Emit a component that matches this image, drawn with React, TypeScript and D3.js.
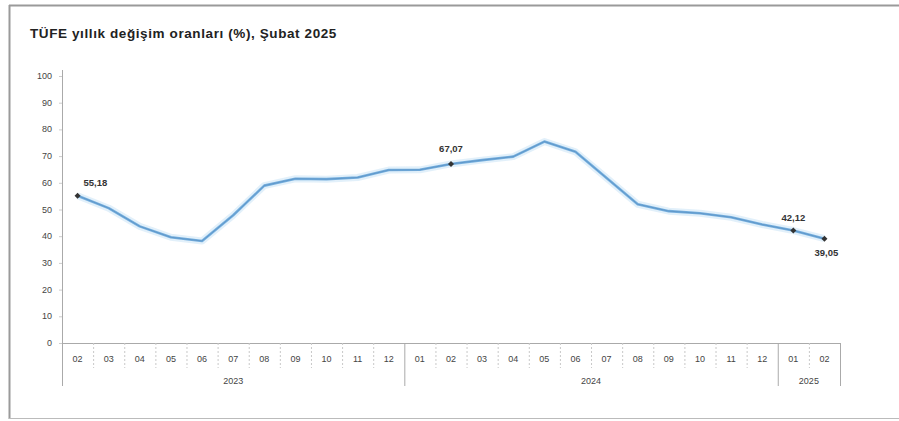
import React from "react";
import * as d3 from "d3";

const months = ["02","03","04","05","06","07","08","09","10","11","12","01","02","03","04","05","06","07","08","09","10","11","12","01","02"];
const years = [
  { label: "2023", start: 0, end: 11 },
  { label: "2024", start: 11, end: 23 },
  { label: "2025", start: 23, end: 25 },
];
const values = [55.18,50.51,43.68,39.59,38.21,47.83,58.94,61.53,61.36,61.98,64.77,64.86,67.07,68.5,69.8,75.45,71.6,61.78,51.97,49.38,48.58,47.09,44.38,42.12,39.05];
const yTicks = [0,10,20,30,40,50,60,70,80,90,100];
const labeled = [
  { i: 0, text: "55,18", dx: 6, dy: -10, anchor: "start" },
  { i: 12, text: "67,07", dx: 0, dy: -12, anchor: "middle" },
  { i: 23, text: "42,12", dx: 0, dy: -10, anchor: "middle" },
  { i: 24, text: "39,05", dx: 2, dy: 17, anchor: "middle" },
];

export default function App() {
  const W = 899, H = 421;
  const left = 62, right = 840, top = 76, bottom = 343;
  const x = d3.scaleBand<number>().domain(d3.range(months.length)).range([left, right]);
  const y = d3.scaleLinear().domain([0, 100]).range([bottom, top]);
  const cx = (i: number) => (x(i) as number) + x.bandwidth() / 2;
  const line = d3.line<number>().x((_, i) => cx(i)).y((d) => y(d));
  const path = line(values) || "";
  const font = "Arial, 'Liberation Sans', sans-serif";
  const boundaries = new Set<number>();
  years.forEach((yr) => { boundaries.add(yr.start); boundaries.add(yr.end); });
  return (
    <svg width={W} height={H} style={{ position: "absolute", left: 0, top: 0, background: "#fff" }}>
      <rect x={0} y={0} width={W} height={H} fill="#fff" />
      <line x1={9} x2={W} y1={5.5} y2={5.5} stroke="#9a9a9a" strokeWidth={2} />
      <line x1={9.5} x2={9.5} y1={5} y2={419} stroke="#9a9a9a" strokeWidth={2} />
      <line x1={9} x2={W} y1={418.5} y2={418.5} stroke="#bbb" strokeWidth={1} />
      <text x={30} y={38} fontFamily={font} fontSize={13.5} fontWeight="bold" fill="#222" letterSpacing={0.6}>
        TÜFE yıllık değişim oranları (%), Şubat 2025
      </text>
      {/* y axis */}
      <line x1={left + 0.5} x2={left + 0.5} y1={top - 6} y2={386} stroke="#aaa" strokeWidth={1} />
      {yTicks.map((t) => (
        <g key={t}>
          <line x1={left - 3} x2={left} y1={y(t) + 0.5} y2={y(t) + 0.5} stroke="#ccc" />
          <text x={52} y={y(t) + 3} textAnchor="end" fontFamily={font} fontSize={9} fill="#444">{t}</text>
        </g>
      ))}
      {/* x axis */}
      <line x1={left} x2={right} y1={bottom + 0.5} y2={bottom + 0.5} stroke="#aaa" strokeWidth={1} />
      {d3.range(months.length + 1).map((i) => {
        const xx = i < months.length ? (x(i) as number) : right;
        const isB = boundaries.has(i);
        return (
          <line key={"s" + i} x1={xx + 0.5} x2={xx + 0.5} y1={bottom} y2={isB ? 386 : 368}
            stroke={isB ? "#aaa" : "#c8c8c8"} strokeDasharray={isB ? undefined : "2,2"} />
        );
      })}
      {months.map((m, i) => (
        <text key={"m" + i} x={cx(i)} y={362} textAnchor="middle" fontFamily={font} fontSize={9} fill="#444">{m}</text>
      ))}
      {years.map((yr) => {
        const mid = ((x(yr.start) as number) + (yr.end < months.length ? (x(yr.end) as number) : right)) / 2;
        return (
          <text key={yr.label} x={mid} y={384} textAnchor="middle" fontFamily={font} fontSize={9} fill="#444">{yr.label}</text>
        );
      })}
      {/* line */}
      <path d={path} fill="none" stroke="#d6eaf8" strokeWidth={7} strokeLinejoin="round" opacity={0.7} />
      <path d={path} fill="none" stroke="#74aede" strokeWidth={2.6} strokeLinejoin="round" />
      <path d={path} fill="none" stroke="#4a7fb0" strokeWidth={0.8} strokeLinejoin="round" opacity={0.6} />
      {labeled.map((l) => {
        const px = cx(l.i), py = y(values[l.i]);
        return (
          <g key={"l" + l.i}>
            <path d={`M${px},${py - 3}L${px + 3},${py}L${px},${py + 3}L${px - 3},${py}Z`} fill="#333" />
            <text x={px + l.dx} y={py + l.dy} textAnchor={l.anchor as any} fontFamily={font} fontSize={9.5} fontWeight="bold" fill="#333">{l.text}</text>
          </g>
        );
      })}
    </svg>
  );
}
